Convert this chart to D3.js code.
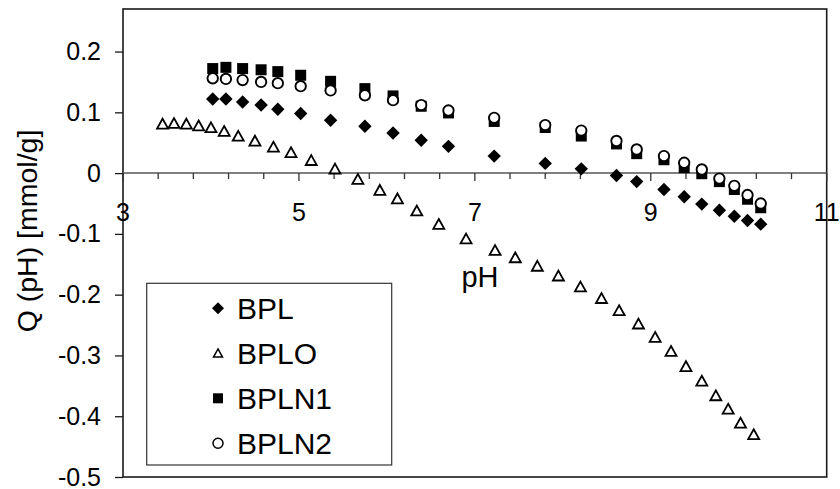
<!DOCTYPE html>
<html>
<head>
<meta charset="utf-8">
<script src="https://cdn.jsdelivr.net/npm/d3@7"></script>
<style>
  body { margin: 0; background: #fff; }
  svg text { font-family: "Liberation Sans", Arial, sans-serif; fill: #000; }
</style>
</head>
<body>
<div id="chart"></div>
<script>
// pH values shared by BPL, BPLN1, BPLN2
const phA = [4.02, 4.17, 4.36, 4.57, 4.76, 5.02, 5.36, 5.75, 6.07, 6.39, 6.70, 7.22, 7.80, 8.21, 8.61, 8.84, 9.15, 9.38, 9.58, 9.78, 9.95, 10.10, 10.25];
const qBPL = [0.122, 0.122, 0.117, 0.112, 0.105, 0.098, 0.087, 0.077, 0.066, 0.054, 0.044, 0.028, 0.016, 0.007, -0.004, -0.014, -0.027, -0.039, -0.051, -0.061, -0.071, -0.078, -0.084];
const qBPLN1 = [0.172, 0.174, 0.172, 0.170, 0.167, 0.161, 0.151, 0.139, 0.127, 0.110, 0.099, 0.085, 0.075, 0.061, 0.048, 0.032, 0.022, 0.009, -0.001, -0.014, -0.027, -0.043, -0.057];
const qBPLN2 = [0.156, 0.155, 0.153, 0.150, 0.148, 0.143, 0.136, 0.128, 0.120, 0.112, 0.103, 0.091, 0.079, 0.070, 0.053, 0.039, 0.028, 0.017, 0.006, -0.009, -0.021, -0.036, -0.050];
// BPLO has its own pH points
const phO = [3.45, 3.58, 3.72, 3.86, 4.00, 4.15, 4.31, 4.50, 4.71, 4.91, 5.14, 5.41, 5.67, 5.92, 6.12, 6.34, 6.59, 6.90, 7.23, 7.46, 7.71, 7.95, 8.20, 8.44, 8.64, 8.86, 9.05, 9.23, 9.40, 9.58, 9.74, 9.88, 10.02, 10.17];
const qBPLO = [0.081, 0.082, 0.081, 0.078, 0.075, 0.069, 0.061, 0.053, 0.043, 0.034, 0.021, 0.007, -0.010, -0.028, -0.042, -0.062, -0.084, -0.108, -0.127, -0.139, -0.153, -0.169, -0.187, -0.206, -0.226, -0.248, -0.270, -0.293, -0.318, -0.342, -0.366, -0.388, -0.411, -0.430];

const xTickLabels = [3, 5, 7, 9, 11];
const yTicks = [-0.5, -0.4, -0.3, -0.2, -0.1, 0, 0.1, 0.2];
const seriesNames = ['BPL', 'BPLO', 'BPLN1', 'BPLN2'];

const width = 840, height = 489;
const plotLeft = 123, plotRight = 826.7, plotTop = 9, plotBottom = 477;

const svg = d3.select('#chart').append('svg')
  .attr('width', width)
  .attr('height', height);

const x = d3.scaleLinear().domain([3, 11]).range([plotLeft, plotRight]);
const y = d3.scaleLinear().domain([-0.5, 0.27]).range([plotBottom, plotTop]);

// marker shapes
function diamond(r) { return `M0,${-r}L${r},0L0,${r}L${-r},0Z`; }
function square(s) { const h = s / 2; return `M${-h},${-h}H${h}V${h}H${-h}Z`; }
function triangle(w) { const h = w * 0.85; return `M0,${-h / 2 - 0.5}L${w / 2},${h / 2}L${-w / 2},${h / 2}Z`; }

// plot border
svg.append('rect')
  .attr('x', plotLeft).attr('y', plotTop)
  .attr('width', plotRight - plotLeft).attr('height', plotBottom - plotTop)
  .attr('fill', 'none').attr('stroke', '#1a1a1a').attr('stroke-width', 1.6);

// y axis on the left edge (plain hyphen for negatives, like Excel)
const yAxis = svg.append('g')
  .attr('transform', 'translate(' + plotLeft + ',0)')
  .call(d3.axisLeft(y).tickValues(yTicks).tickSize(8).tickPadding(14)
    .tickFormat(d => d === 0 ? '0' : d.toFixed(1)));
yAxis.select('.domain').remove();
yAxis.selectAll('line').attr('stroke', '#1a1a1a').attr('stroke-width', 1.3);
yAxis.selectAll('text').style('font-size', '25px').attr('font-family', null).attr('fill', null);

// x axis crossing at Q = 0
const xAxis = svg.append('g')
  .attr('transform', 'translate(0,' + y(0) + ')');
xAxis.append('line')
  .attr('x1', plotLeft).attr('x2', plotRight)
  .attr('stroke', '#555').attr('stroke-width', 1.5);
const xTicks = d3.range(0, 21).map(i => 3 + i * 0.4);
xAxis.selectAll('.tick')
  .data(xTicks)
  .enter().append('line')
  .attr('x1', d => x(d)).attr('x2', d => x(d))
  .attr('y1', 0)
  .attr('y2', d => xTickLabels.some(v => Math.abs(v - d) < 1e-6) ? 8 : 6)
  .attr('stroke', '#333').attr('stroke-width', 1.3);
xAxis.selectAll('.lbl')
  .data(xTickLabels)
  .enter().append('text')
  .attr('x', d => x(d))
  .attr('y', 48)
  .attr('text-anchor', 'middle')
  .style('font-size', '25px')
  .text(d => d);

// axis titles
svg.append('text')
  .attr('x', 480).attr('y', 287)
  .attr('text-anchor', 'middle')
  .style('font-size', '29px')
  .text('pH');

svg.append('text')
  .attr('transform', 'translate(37,231) rotate(-90)')
  .attr('text-anchor', 'middle')
  .style('font-size', '28.5px')
  .text('Q (pH) [mmol/g]');

// series
const plot = svg.append('g');

plot.selectAll('.bpl')
  .data(phA.map((p, i) => [p, qBPL[i]]))
  .enter().append('path')
  .attr('d', diamond(6.7))
  .attr('transform', d => 'translate(' + x(d[0]) + ',' + y(d[1]) + ')')
  .attr('fill', '#000');

plot.selectAll('.bplo')
  .data(phO.map((p, i) => [p, qBPLO[i]]))
  .enter().append('path')
  .attr('d', triangle(11))
  .attr('transform', d => 'translate(' + x(d[0]) + ',' + y(d[1]) + ')')
  .attr('fill', '#fff').attr('stroke', '#000').attr('stroke-width', 1.8)
  .attr('stroke-linejoin', 'miter');

plot.selectAll('.bpln1')
  .data(phA.map((p, i) => [p, qBPLN1[i]]))
  .enter().append('path')
  .attr('d', square(11))
  .attr('transform', d => 'translate(' + x(d[0]) + ',' + y(d[1]) + ')')
  .attr('fill', '#000');

plot.selectAll('.bpln2')
  .data(phA.map((p, i) => [p, qBPLN2[i]]))
  .enter().append('circle')
  .attr('cx', d => x(d[0])).attr('cy', d => y(d[1]))
  .attr('r', 5.2)
  .attr('fill', '#fff').attr('stroke', '#000').attr('stroke-width', 1.9);

// legend
const legend = svg.append('g');
legend.append('rect')
  .attr('x', 146.7).attr('y', 283.3)
  .attr('width', 245).attr('height', 181.7)
  .attr('fill', '#fff').attr('stroke', '#333').attr('stroke-width', 1.2);

const legendY = [308.3, 353.3, 398.3, 443.3];
const legendShapes = [
  g => g.append('path').attr('d', diamond(6)).attr('fill', '#000'),
  g => g.append('path').attr('d', triangle(9)).attr('fill', '#fff').attr('stroke', '#000').attr('stroke-width', 1.5),
  g => g.append('path').attr('d', square(10)).attr('fill', '#000'),
  g => g.append('circle').attr('r', 5).attr('fill', '#fff').attr('stroke', '#000').attr('stroke-width', 1.5)
];
seriesNames.forEach((name, i) => {
  const row = legend.append('g').attr('transform', 'translate(218,' + legendY[i] + ')');
  legendShapes[i](row);
  row.append('text')
    .attr('x', 19).attr('y', 0)
    .attr('dy', '0.36em')
    .style('font-size', '30px')
    .text(name);
});
</script>
</body>
</html>
